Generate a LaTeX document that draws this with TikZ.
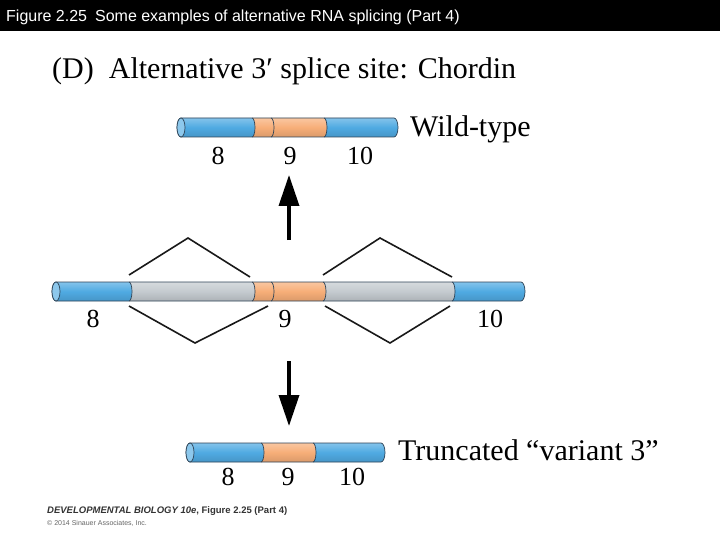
\documentclass[tikz,border=0pt]{standalone}
\usepackage{fontspec}
\setmainfont{Liberation Serif}
\newfontfamily\sansfont{Liberation Sans}
\usetikzlibrary{arrows.meta}
\definecolor{exonblue}{HTML}{4FAAE2}
\definecolor{exonorange}{HTML}{F7AE78}
\definecolor{introngray}{HTML}{C4CACF}
\definecolor{rnaline}{HTML}{2E4356}
\tikzset{
  segshade/.style={top color=#1!70!white, bottom color=#1!88!black, middle color=#1},
  rnaoutline/.style={draw=rnaline, line width=0.7pt},
  exonnum/.style={font=\fontsize{26}{26}\selectfont, inner sep=0pt, anchor=base},
  formlabel/.style={font=\fontsize{30}{30}\selectfont, inner sep=0pt, anchor=base west},
  spliceline/.style={line width=1.6pt, black!90},
  bigarrow/.style={line width=3.5pt, -{Triangle[length=31pt,width=20pt]}}
}
% #1 top y, #2 left x, #3 right x, #4 segments xa/xb/colour, #5 boundaries
\newcommand{\rnabar}[5]{%
  \begin{scope}
    \clip (#2+4,#1) -- (#3-4,#1) arc[start angle=90,end angle=-90,x radius=4pt,y radius=9.5pt]
      -- (#2+4,#1+19) arc[start angle=270,end angle=90,x radius=4pt,y radius=9.5pt] -- cycle;
    \foreach \xa/\xb/\c in {#4}
      \shade[segshade=\c] (\xa-2,#1) -- (\xb-2,#1) arc[start angle=90,end angle=-90,x radius=3pt,y radius=9.5pt]
        -- (\xa-2,#1+19) arc[start angle=-90,end angle=90,x radius=3pt,y radius=9.5pt] -- cycle;
  \end{scope}
  \draw[rnaoutline] (#2+4,#1) -- (#3-4,#1) arc[start angle=90,end angle=-90,x radius=4pt,y radius=9.5pt]
    -- (#2+4,#1+19) arc[start angle=270,end angle=90,x radius=4pt,y radius=9.5pt] -- cycle;
  \filldraw[rnaoutline, fill=exonblue!65!white] (#2+4,#1+9.5) ellipse[x radius=4pt,y radius=9.5pt];
  \foreach \b in {#5}
    \draw[rnaoutline] (\b-2,#1) arc[start angle=90,end angle=-90,x radius=3pt,y radius=9.5pt];
}

\begin{document}
\begin{tikzpicture}[x=1pt,y=-1pt]
\useasboundingbox (0,0) rectangle (720,540);
\fill[white] (0,0) rectangle (720,540);
\fill[black] (0,0) rectangle (720,31);
\node[anchor=base west, inner sep=0pt, text=white, font=\sansfont\fontsize{16}{16}\selectfont] (figtitle) at (6,21.5)
  {Figure 2.25\enspace Some examples of alternative RNA splicing (Part 4)};
\node[formlabel] (panel) at (52,79) {(D)\enspace Alternative 3′ splice site: Chordin};

% wild-type mRNA
\rnabar{118}{177}{398}{167/254/exonblue, 254/326/exonorange, 326/408/exonblue}{254,273,326}
\node[exonnum] (wt8) at (218,165) {8};
\node[exonnum] (wt9) at (290,165) {9};
\node[exonnum] (wt10) at (360,165) {10};
\node[formlabel] (wildtype) at (410,137) {Wild-type};

% pre-mRNA
\rnabar{282}{52}{525}{42/131/exonblue, 131/254/introngray, 254/325/exonorange, 325/454/introngray, 454/535/exonblue}{131,254,273,325,454}
\node[exonnum] (pre8) at (93,327) {8};
\node[exonnum] (pre9) at (285,327) {9};
\node[exonnum] (pre10) at (490,327) {10};

% splicing
\coordinate (tla) at (129,275); \coordinate (tlb) at (188,238); \coordinate (tlc) at (250,277);
\coordinate (tra) at (323,275); \coordinate (trb) at (380,238); \coordinate (trc) at (452,277);
\coordinate (bla) at (129,306); \coordinate (blb) at (195,343); \coordinate (blc) at (268,306);
\coordinate (bra) at (325,306); \coordinate (brb) at (390,343); \coordinate (brc) at (450,306);
\draw[spliceline] (tla) -- (tlb) -- (tlc);
\draw[spliceline] (tra) -- (trb) -- (trc);
\draw[spliceline] (bla) -- (blb) -- (blc);
\draw[spliceline] (bra) -- (brb) -- (brc);

\coordinate (upfrom) at (289,240); \coordinate (upto) at (289,175);
\coordinate (downfrom) at (289,361); \coordinate (downto) at (289,426);
\draw[bigarrow] (upfrom) -- (upto);
\draw[bigarrow] (downfrom) -- (downto);

% variant 3
\rnabar{443}{186}{385}{176/263/exonblue, 263/315/exonorange, 315/395/exonblue}{263,315}
\node[exonnum] (var8) at (228,485) {8};
\node[exonnum] (var9) at (288,485) {9};
\node[exonnum] (var10) at (352,485) {10};
\node[formlabel] (truncated) at (398,460) {Truncated “variant 3”};

\node[anchor=base west, inner sep=0pt, text=black!80, font=\sansfont\bfseries\fontsize{9.5}{10}\selectfont] (credit) at (47,513)
  {\itshape DEVELOPMENTAL BIOLOGY 10e\upshape, Figure 2.25 (Part 4)};
\node[anchor=base west, inner sep=0pt, text=black!60, font=\sansfont\fontsize{7}{7}\selectfont] (copyright) at (47,525)
  {© 2014 Sinauer Associates, Inc.};
\end{tikzpicture}
\end{document}
